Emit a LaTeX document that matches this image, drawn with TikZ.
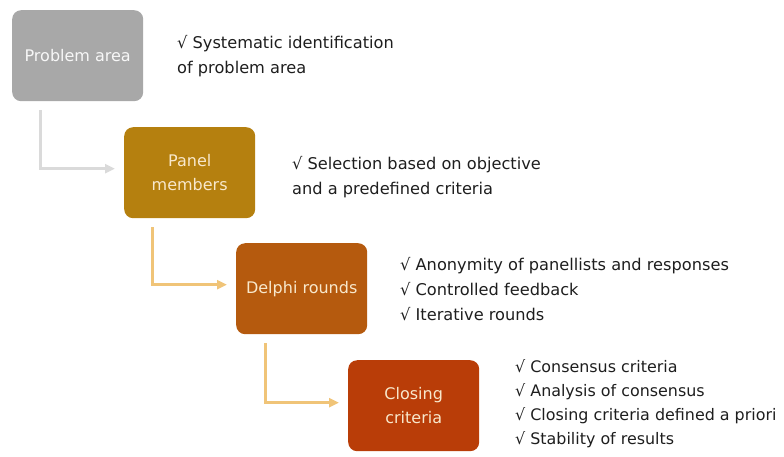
\documentclass[tikz,border=0pt]{standalone}
\usepackage{fontspec}
\setmainfont{DejaVu Sans}
\usetikzlibrary{arrows.meta,positioning}
\definecolor{cgray}{HTML}{A8A8A8}
\definecolor{cpanel}{HTML}{B5800F}
\definecolor{cdelphi}{HTML}{B55A0E}
\definecolor{cclose}{HTML}{B93D08}
\definecolor{lgray}{HTML}{DADADA}
\definecolor{lorange}{HTML}{F0C478}
\definecolor{txt}{HTML}{1E1E1E}
\definecolor{cream}{HTML}{F8E8CC}
\tikzset{
  stage/.style={rounded corners=9pt, minimum width=131pt, minimum height=91pt, inner sep=0pt, align=center, font=\fontsize{16}{24}\selectfont, text=cream, anchor=north west},
  conn/.style={line width=3pt, -{Triangle[length=10pt,width=9pt]}},
  note/.style={anchor=base west, align=left, inner sep=0pt, text=txt, font=\fontsize{16.2}{25}\selectfont}
}
\begin{document}
\begin{tikzpicture}[x=1pt,y=-1pt]
\useasboundingbox (0,0) rectangle (784,456);
\node[stage, fill=cgray, text=white!94!gray] (pa) at (12,10) {Problem area};
\node[stage, fill=cpanel] (pm) at (124,127) {Panel\\members};
\node[stage, fill=cdelphi] (dr) at (236,243) {Delphi rounds};
\node[stage, fill=cclose] (cc) at (348,360) {Closing\\criteria};

\draw[conn, lgray] ([xshift=28pt,yshift=-9pt]pa.south west) |- ([xshift=-9pt,yshift=4pt]pm.west);
\draw[conn, lorange] ([xshift=28pt,yshift=-9pt]pm.south west) |- ([xshift=-9pt,yshift=4pt]dr.west);
\draw[conn, lorange] ([xshift=29pt,yshift=-9pt]dr.south west) |- ([xshift=-9pt,yshift=3pt]cc.west);

\node[note] (n1) at (177,73) {√ Systematic identification\\of problem area};
\node[note] (n2) at (292,194) {√ Selection based on objective\\and a predefined criteria};
\node[note] (n3) at (400,320) {√ Anonymity of panellists and responses\\√ Controlled feedback\\√ Iterative rounds};
\node[note, font=\fontsize{15.9}{24}\selectfont] (n4) at (515,444) {√ Consensus criteria\\√ Analysis of consensus\\√ Closing criteria defined a priori\\√ Stability of results};
\end{tikzpicture}
\end{document}
